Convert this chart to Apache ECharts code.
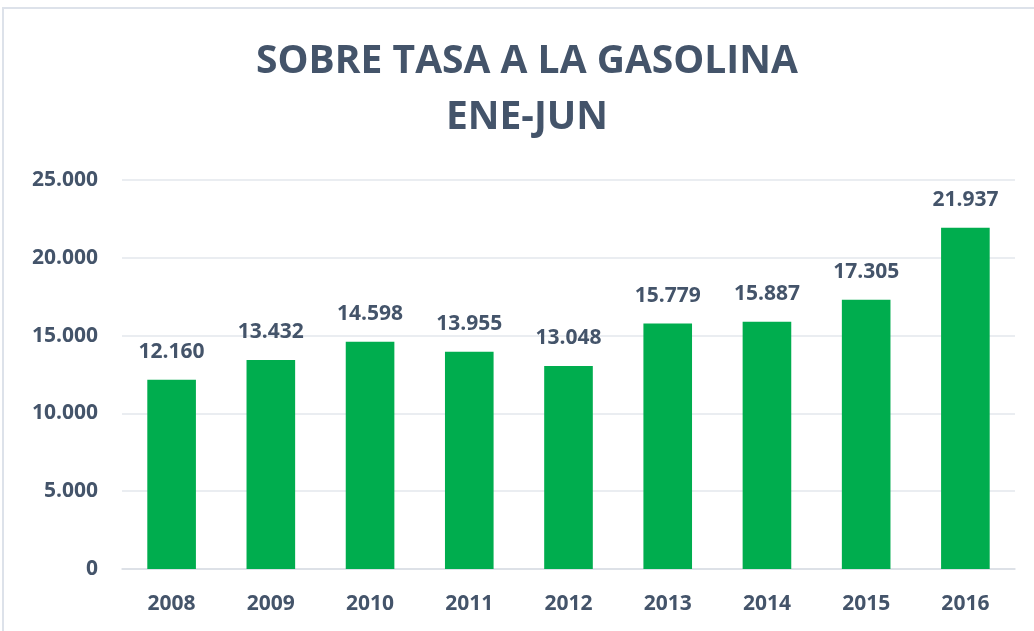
<!DOCTYPE html>
<html>
<head>
<meta charset="utf-8">
<script src="https://cdn.jsdelivr.net/npm/echarts@6/dist/echarts.min.js"></script>
<style>
  html, body { margin: 0; padding: 0; background: #fff; }
</style>
</head>
<body>
<div id="sobretasa" style="width:1034px;height:631px;"></div>
<script>
// datos del grafico
var years = ['2008', '2009', '2010', '2011', '2012', '2013', '2014', '2015', '2016'];
var recaudo = [12160, 13432, 14598, 13955, 13048, 15779, 15887, 17305, 21937];
var yTicks = [0, 5000, 10000, 15000, 20000, 25000];
var titulos = ['SOBRE TASA A LA GASOLINA', 'ENE-JUN'];

var textColor = '#44546A';

function fmt(v) {
    // separador de miles con punto
    return String(v).replace(/\B(?=(\d{3})+(?!\d))/g, '.');
}

var titleStyle = {
    fontFamily: 'Open Sans',
    fontSize: 39,
    fontWeight: 'bold',
    color: textColor,
    lineHeight: 56
};

var chart = echarts.init(document.getElementById('sobretasa'));
var options = {
    backgroundColor: '#fff',
    animation: false,
    title: [
        { text: titulos[0], left: 527, textAlign: 'center', top: 34, padding: 0, textStyle: titleStyle },
        { text: titulos[1], left: 527, textAlign: 'center', top: 90, padding: 0, textStyle: titleStyle }
    ],
    graphic: [{
        type: 'rect',
        shape: { x: 3, y: 8, width: 1040, height: 640 },
        style: { fill: 'none', stroke: '#dde2ea', lineWidth: 2 },
        silent: true
    }],
    grid: {
        left: 122,
        right: 19,
        top: 180,
        bottom: 62
    },
    xAxis: {
        type: 'category',
        data: years,
        axisLine: { lineStyle: { color: '#d9dde3', width: 1.5 } },
        axisTick: { show: false },
        axisLabel: {
            margin: 25,
            fontFamily: 'Open Sans',
            fontSize: 21,
            fontWeight: 'bold',
            color: textColor
        }
    },
    yAxis: {
        type: 'value',
        min: yTicks[0],
        max: yTicks[yTicks.length - 1],
        interval: yTicks[1] - yTicks[0],
        axisLine: { show: false },
        axisTick: { show: false },
        splitLine: { lineStyle: { color: '#e3e7ec', width: 1.5 } },
        axisLabel: {
            margin: 24,
            fontFamily: 'Open Sans',
            fontSize: 21,
            fontWeight: 'bold',
            color: textColor,
            formatter: function (v) { return fmt(v); }
        }
    },
    series: [{
        name: 'Sobretasa',
        type: 'bar',
        barWidth: '49%',
        data: recaudo,
        itemStyle: { color: '#00AD4E' },
        label: {
            show: true,
            position: 'top',
            distance: 17,
            fontFamily: 'Open Sans',
            fontSize: 21,
            fontWeight: 'bold',
            color: textColor,
            formatter: function (p) { return fmt(p.value); }
        }
    }]
};
chart.setOption(options);
window.addEventListener('resize', function () {
    chart.resize();
});
</script>
</body>
</html>
